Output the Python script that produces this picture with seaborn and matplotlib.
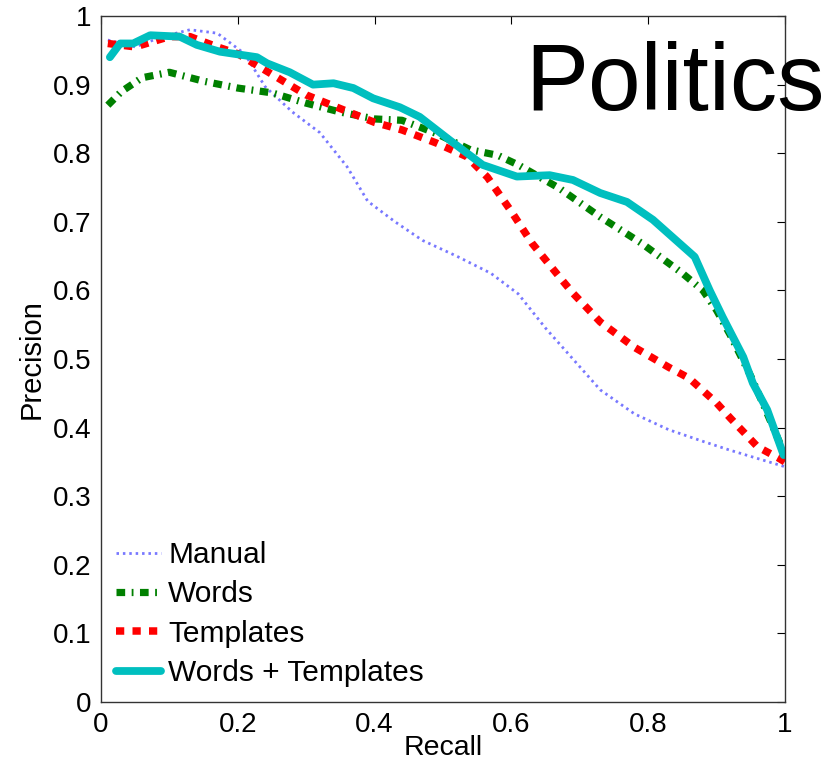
import matplotlib
matplotlib.use("Agg")
import matplotlib.pyplot as plt
import seaborn as sns
import pandas as pd
from matplotlib.ticker import FuncFormatter, FixedLocator

# ---- data ----
manual_x = [0.01, 0.05, 0.09, 0.13, 0.17, 0.21, 0.24, 0.28, 0.32, 0.36, 0.39, 0.43, 0.47, 0.52, 0.57, 0.61, 0.65, 0.69, 0.73, 0.78, 0.83, 0.88, 0.92, 0.96, 1.0]
manual_y = [0.965, 0.955, 0.97, 0.98, 0.975, 0.945, 0.897, 0.86, 0.83, 0.78, 0.73, 0.70, 0.673, 0.65, 0.625, 0.595, 0.545, 0.50, 0.455, 0.42, 0.397, 0.38, 0.367, 0.355, 0.343]

words_x = [0.01, 0.03, 0.06, 0.1, 0.15, 0.2, 0.25, 0.3, 0.35, 0.4, 0.44, 0.49, 0.54, 0.58, 0.61, 0.67, 0.73, 0.79, 0.85, 0.88, 0.9, 0.92, 0.95, 0.97, 1.0]
words_y = [0.87, 0.89, 0.91, 0.918, 0.905, 0.895, 0.888, 0.873, 0.86, 0.85, 0.848, 0.829, 0.805, 0.797, 0.783, 0.749, 0.707, 0.669, 0.625, 0.6, 0.571, 0.535, 0.475, 0.43, 0.36]

templ_x = [0.01, 0.05, 0.1, 0.13, 0.17, 0.2, 0.25, 0.3, 0.35, 0.4, 0.44, 0.49, 0.535, 0.565, 0.6, 0.63, 0.67, 0.69, 0.73, 0.78, 0.83, 0.86, 0.9, 0.92, 0.96, 0.99, 1.0]
templ_y = [0.96, 0.955, 0.97, 0.97, 0.955, 0.945, 0.915, 0.885, 0.865, 0.845, 0.834, 0.815, 0.795, 0.765, 0.715, 0.669, 0.62, 0.596, 0.554, 0.517, 0.488, 0.472, 0.436, 0.414, 0.372, 0.356, 0.35]

wt_x = [0.013, 0.028, 0.047, 0.072, 0.115, 0.14, 0.174, 0.228, 0.243, 0.276, 0.31, 0.34, 0.369, 0.398, 0.437, 0.466, 0.51, 0.558, 0.608, 0.656, 0.69, 0.73, 0.769, 0.807, 0.868, 0.89, 0.909, 0.939, 0.953, 0.974, 0.998]
wt_y = [0.94, 0.96, 0.96, 0.972, 0.97, 0.958, 0.948, 0.94, 0.931, 0.918, 0.9, 0.902, 0.895, 0.88, 0.867, 0.853, 0.819, 0.783, 0.766, 0.768, 0.761, 0.742, 0.729, 0.703, 0.649, 0.6, 0.561, 0.503, 0.465, 0.426, 0.36]

labels = ["Manual", "Words", "Templates", "Words + Templates"]
x_ticks = [0, 0.2, 0.4, 0.6, 0.8, 1.0]
y_ticks = [0, 0.1, 0.2, 0.3, 0.4, 0.5, 0.6, 0.7, 0.8, 0.9, 1.0]
title_text = "Politics"

sns.set_style("white")
plt.rcParams["font.family"] = ["Liberation Sans", "DejaVu Sans"]
plt.rcParams["text.color"] = "black"
plt.rcParams["axes.labelcolor"] = "black"

fig = plt.figure(figsize=(8.23, 7.67), dpi=100)
ax = fig.add_axes([0.1227, 0.0847, 0.9538 - 0.1227, 0.9791 - 0.0847])

styles = [
    dict(color="#7878ff", linewidth=2.0, linestyle=(0, (0.9, 1.4))),
    dict(color="#008000", linewidth=5.2, linestyle=(0, (1.2, 0.9, 0.25, 0.9))),
    dict(color="#ff0000", linewidth=5.4, linestyle=(0, (1.1, 1.1))),
    dict(color="#00bfbf", linewidth=5.6, linestyle="-"),
]
series = [(manual_x, manual_y), (words_x, words_y), (templ_x, templ_y), (wt_x, wt_y)]
for (xs, ys), lab, st in zip(series, labels, styles):
    df = pd.DataFrame({"Recall": xs, "Precision": ys})
    sns.lineplot(data=df, x="Recall", y="Precision", ax=ax, label=lab, sort=False,
                 estimator=None, **st)

ax.set_xlim(0, 1)
ax.set_ylim(0, 1)
ax.xaxis.set_major_locator(FixedLocator(x_ticks))
ax.yaxis.set_major_locator(FixedLocator(y_ticks))
fmt = FuncFormatter(lambda v, p: ("%.1f" % v).rstrip("0").rstrip(".") if v not in (0, 1) else "%d" % v)
ax.xaxis.set_major_formatter(fmt)
ax.yaxis.set_major_formatter(fmt)
ax.tick_params(direction="in", length=6, width=0.8, top=True, right=True,
               labelsize=20, colors="black", pad=7)
for sp in ax.spines.values():
    sp.set_color("#333333")
    sp.set_linewidth(1.0)

ax.set_xlabel("Recall", fontsize=20.5, labelpad=-2, color="black")
ax.set_ylabel("Precision", fontsize=21, labelpad=5, color="black")

leg = ax.legend(loc="lower left", frameon=False, fontsize=21.5, handlelength=1.5,
                handletextpad=0.25, labelspacing=0.38, borderaxespad=0.1,
                bbox_to_anchor=(0.0, 0.0), labelcolor="black")

ax.text(0.62, 0.863, title_text, transform=ax.transData, fontsize=68,
        color="black", ha="left", va="baseline", clip_on=False)

fig.savefig("out.png", dpi=100)
